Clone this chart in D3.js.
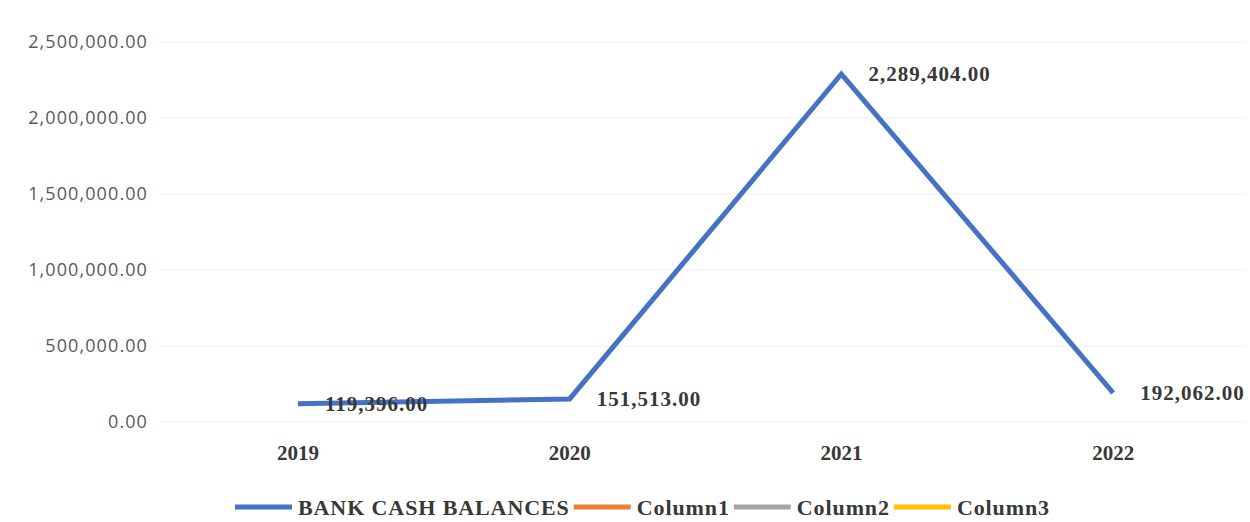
<!doctype html>
<html>
  <head>
    <meta charset="utf-8">
    <title>Bank cash balances</title>
    <script src="https://cdnjs.cloudflare.com/ajax/libs/d3/7.8.5/d3.min.js"></script>
    <style>
      body { margin: 0; background: #fff; }
      .ytick { font-family: "Open Sans", sans-serif; font-size: 18px; fill: #595959; letter-spacing: 1.1px; }
      .xtick, .dlabel, .legend { font-family: "Liberation Serif", "Times New Roman", serif; font-weight: bold; fill: #383838; }
    </style>
  </head>
  <body>
    <div id="chart"></div>
    <script>
      // data
      const years = ['2019', '2020', '2021', '2022'];
      const balances = [119396, 151513, 2289404, 192062];
      const yTicks = [0, 500000, 1000000, 1500000, 2000000, 2500000];
      const seriesNames = ['BANK CASH BALANCES', 'Column1', 'Column2', 'Column3'];
      const seriesColors = ['#4472C4', '#ED7D31', '#A5A5A5', '#FFC000'];

      const width = 1250, height = 522;
      const margin = {top: 42, right: 1, bottom: 100, left: 162};

      const svg = d3.select('#chart')
        .append('svg')
        .attr('width', width)
        .attr('height', height);

      const x = d3.scaleBand()
        .domain(years)
        .range([margin.left, width - margin.right]);

      const y = d3.scaleLinear()
        .domain([0, 2500000])
        .range([height - margin.bottom, margin.top]);

      const fmt = d3.format(',.2f');

      // gridlines
      svg.append('g')
        .selectAll('line')
        .data(yTicks)
        .join('line')
        .attr('x1', margin.left)
        .attr('x2', width - 5)
        .attr('y1', d => y(d))
        .attr('y2', d => y(d))
        .attr('stroke', '#efefef')
        .attr('stroke-width', 1.2);

      // y axis labels
      svg.append('g')
        .selectAll('text')
        .data(yTicks)
        .join('text')
        .attr('class', 'ytick')
        .attr('x', 148)
        .attr('y', d => y(d))
        .attr('dy', '0.35em')
        .attr('text-anchor', 'end')
        .text(d => fmt(d));

      // x axis labels
      svg.append('g')
        .selectAll('text')
        .data(years)
        .join('text')
        .attr('class', 'xtick')
        .attr('x', d => x(d) + x.bandwidth() / 2)
        .attr('y', y(0) + 38)
        .attr('text-anchor', 'middle')
        .style('font-size', '21px')
        .text(d => d);

      const pts = years.map((yr, i) => ({year: yr, value: balances[i]}));

      const line = d3.line()
        .x(d => x(d.year) + x.bandwidth() / 2)
        .y(d => y(d.value));

      svg.append('path')
        .datum(pts)
        .attr('d', line)
        .attr('fill', 'none')
        .attr('stroke', seriesColors[0])
        .attr('stroke-width', 5)
        .attr('stroke-linejoin', 'miter');

      // data labels
      svg.append('g')
        .selectAll('text')
        .data(pts)
        .join('text')
        .attr('class', 'dlabel')
        .attr('x', d => x(d.year) + x.bandwidth() / 2 + 27)
        .attr('y', d => y(d.value))
        .attr('dy', '0.35em')
        .style('font-size', '21px')
        .style('letter-spacing', '1px')
        .text(d => fmt(d.value));

      // legend
      const legend = svg.append('g');
      let lx = 235;
      const ly = 507;
      seriesNames.forEach((name, i) => {
        legend.append('line')
          .attr('x1', lx).attr('x2', lx + 57)
          .attr('y1', ly).attr('y2', ly)
          .attr('stroke', seriesColors[i])
          .attr('stroke-width', 5);
        const t = legend.append('text')
          .attr('class', 'legend')
          .attr('x', lx + 63)
          .attr('y', ly)
          .attr('dy', '0.35em')
          .style('font-size', '22px')
          .style('letter-spacing', '0.9px')
          .text(name);
        lx = lx + 63 + t.node().getComputedTextLength() + 4;
      });
    </script>
  </body>
</html>
